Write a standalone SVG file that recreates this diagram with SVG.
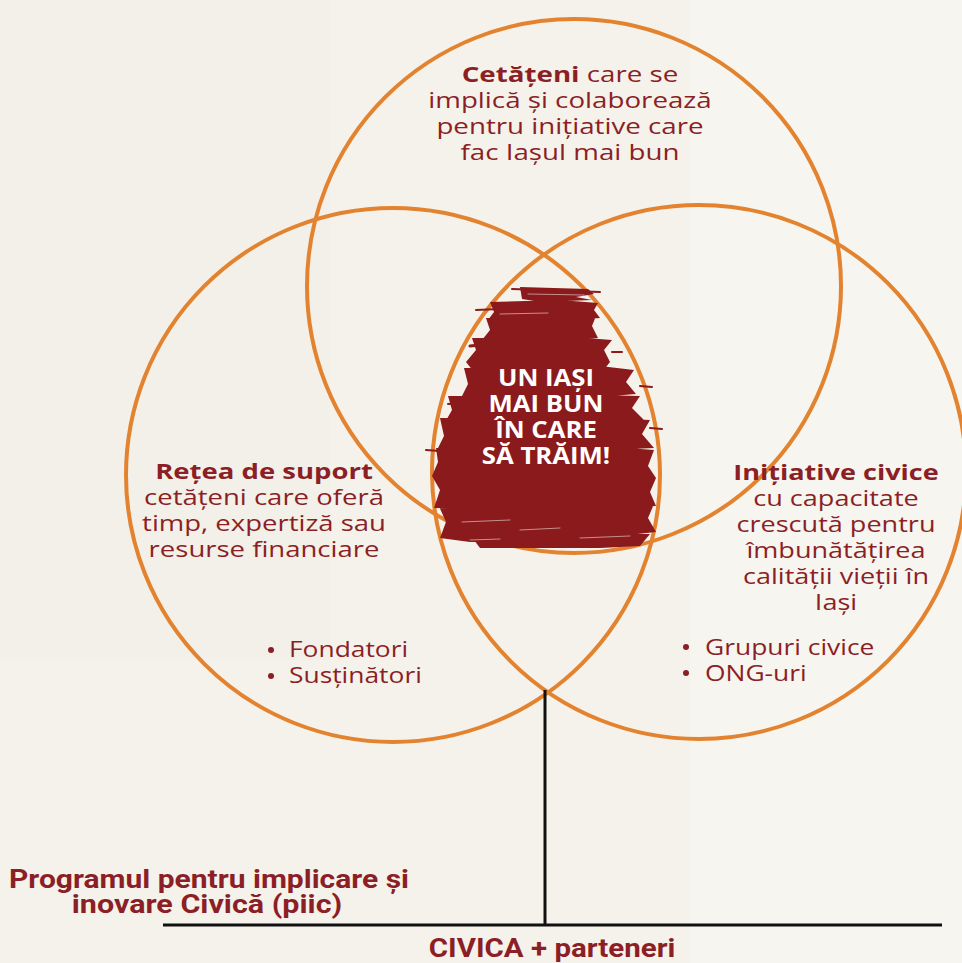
<svg xmlns="http://www.w3.org/2000/svg" width="962" height="963" viewBox="0 0 962 963">
<style>
.ring{fill:none;stroke:#e3832f;stroke-width:4}
.body{font-family:"Open Sans","Noto Sans",sans-serif;font-size:22px;fill:#8c1f26;text-anchor:middle}
.bold{font-weight:700}
.left{text-anchor:start}
.center{font-family:"Open Sans","Noto Sans",sans-serif;font-size:23px;font-weight:700;fill:#ffffff;text-anchor:middle}
.prog{font-family:"Roboto","Liberation Sans",sans-serif;font-size:25px;font-weight:700;fill:#8c1f26;text-anchor:middle}
.tree{stroke:#111;stroke-width:3;fill:none}
.blob{fill:#8a1a1c}
.streak{stroke:#8a1a1c;stroke-linecap:round;fill:none}
.scratch{stroke:#f4f2eb;stroke-linecap:round;fill:none;opacity:0.55}
.dot{fill:#8c1f26}
</style>
<g id="background">
<rect width="962" height="963" fill="#f4f2eb"/>
<rect x="0" y="0" width="330" height="660" fill="#efede5" opacity="0.5"/>
<rect x="690" y="0" width="272" height="963" fill="#f7f6f1" opacity="0.6"/>
</g>
<g id="circle-top"><circle class="ring" cx="574" cy="286" r="267"/></g>
<g id="circle-left"><circle class="ring" cx="393" cy="475" r="267"/></g>
<g id="circle-right"><circle class="ring" cx="699" cy="472" r="267"/></g>
<g id="center">
<path class="blob" d="M520 287 L588 289 L594 294 L576 297 L592 300 L540 302 L522 299 Z
M490 302 L560 300 L598 303 L594 310 L600 318 L540 322 L488 320 L494 312 Z
M486 318 L596 316 L592 326 L598 338 L520 342 L482 340 L490 330 Z
M472 338 L560 336 L612 340 L604 350 L610 362 L602 372 L474 372 L466 362 L476 350 Z
M464 368 L600 366 L634 370 L626 382 L636 394 L560 400 L460 400 L468 384 Z
M448 396 L560 394 L640 396 L632 408 L644 420 L560 424 L444 424 L452 410 Z
M440 418 L600 418 L650 420 L642 434 L654 448 L560 452 L436 452 L444 436 Z
M436 448 L600 446 L654 450 L648 466 L656 478 L650 492 L656 506 L560 510 L434 508 L440 490 L432 476 L438 462 Z
M438 504 L560 502 L654 504 L648 518 L656 532 L600 538 L470 542 L440 538 L446 522 Z
M468 532 L560 530 L650 534 L640 546 L600 548 L480 548 Z"/>
<g class="streak">
<path d="M512 289 L600 292" stroke-width="2"/>
<path d="M476 310 L500 309" stroke-width="2"/>
<path d="M470 346 L480 345" stroke-width="3"/>
<path d="M448 404 L470 403" stroke-width="2"/>
<path d="M426 450 L440 451" stroke-width="2"/>
<path d="M650 428 L662 429" stroke-width="2"/>
<path d="M640 386 L652 387" stroke-width="2"/>
<path d="M612 352 L622 352" stroke-width="2"/>
</g>
<g class="scratch">
<path d="M528 294 L584 295" stroke-width="1"/>
<path d="M500 314 L548 313" stroke-width="1"/>
<path d="M462 522 L510 520" stroke-width="1"/>
<path d="M520 530 L560 528" stroke-width="1"/>
<path d="M580 538 L630 536" stroke-width="1"/>
<path d="M470 540 L500 539" stroke-width="1"/>
</g>
<text class="center" transform="translate(546,0) scale(1.12,1)" x="0" y="386">UN IAȘI</text>
<text class="center" transform="translate(546,0) scale(1.12,1)" x="0" y="412">MAI BUN</text>
<text class="center" transform="translate(546,0) scale(1.12,1)" x="0" y="438">ÎN CARE</text>
<text class="center" transform="translate(546,0) scale(1.12,1)" x="0" y="464">SĂ TRĂIM!</text>
</g>
<g id="label-top" transform="translate(570,0) scale(1.26,1)">
<text class="body" x="0" y="82"><tspan class="bold">Cetățeni</tspan> care se</text>
<text class="body" x="0" y="108">implică și colaborează</text>
<text class="body" x="0" y="134">pentru inițiative care</text>
<text class="body" x="0" y="160">fac Iașul mai bun</text>
</g>
<g id="label-left">
<g transform="translate(264,0) scale(1.25,1)">
<text class="body bold" x="0" y="479">Rețea de suport</text>
<text class="body" x="0" y="505">cetățeni care oferă</text>
<text class="body" x="0" y="531">timp, expertiză sau</text>
<text class="body" x="0" y="557">resurse financiare</text>
</g>
<circle class="dot" cx="271" cy="650" r="3"/>
<circle class="dot" cx="271" cy="676" r="3"/>
<g transform="translate(289,0) scale(1.2,1)">
<text class="body left" x="0" y="657">Fondatori</text>
<text class="body left" x="0" y="683">Susținători</text>
</g>
</g>
<g id="label-right">
<g transform="translate(836,0) scale(1.23,1)">
<text class="body bold" x="0" y="480">Inițiative civice</text>
<text class="body" x="0" y="506">cu capacitate</text>
<text class="body" x="0" y="532">crescută pentru</text>
<text class="body" x="0" y="558">îmbunătățirea</text>
<text class="body" x="0" y="584">calității vieții în</text>
<text class="body" x="0" y="610">Iași</text>
</g>
<circle class="dot" cx="686" cy="647" r="3"/>
<circle class="dot" cx="686" cy="673" r="3"/>
<g transform="translate(705,0) scale(1.2,1)">
<text class="body left" x="0" y="655">Grupuri civice</text>
<text class="body left" x="0" y="681">ONG-uri</text>
</g>
</g>
<g id="connectors">
<line class="tree" x1="545" y1="690" x2="545" y2="925"/>
<line class="tree" x1="163" y1="925" x2="942" y2="925"/>
</g>
<g id="label-program">
<text class="prog" transform="translate(209,0) scale(1.2,1)" x="0" y="888">Programul pentru implicare și</text>
<text class="prog" transform="translate(207,0) scale(1.22,1)" x="0" y="913">inovare Civică (piic)</text>
</g>
<g id="label-civica">
<text class="prog" transform="translate(552,0) scale(1.18,1)" x="0" y="957">CIVICA + parteneri</text>
</g>
</svg>
